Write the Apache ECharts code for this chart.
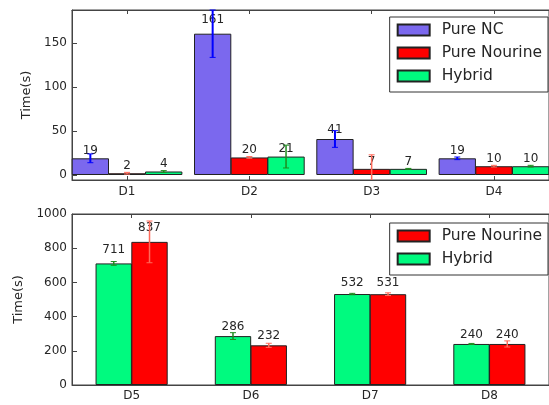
<!DOCTYPE html>
<html>
<head>
<meta charset="utf-8">
<script src="https://cdn.jsdelivr.net/npm/echarts@6.0.0/dist/echarts.min.js"></script>
<style>
html, body { margin: 0; padding: 0; background: #fff; }
#main { width: 549px; height: 405px; }
</style>
</head>
<body>
<div id="main"></div>
<script>
// top panel data
var topCats = ['D1', 'D2', 'D3', 'D4'];
var ncVals = [19, 161, 41, 19];
var ncErr = [5, 27, 9.5, 1.5];
var nourineTopVals = [2, 20, 7, 10];
var nourineTopErr = [1, 1, 16, 1];
var hybridTopVals = [4, 21, 7, 10];
var hybridTopErr = [1, 13, 0.5, 1];

// bottom panel data
var botCats = ['D5', 'D6', 'D7', 'D8'];
var hybridBotVals = [711, 286, 532, 240];
var hybridBotErr = [11, 20, 4, 3];
var nourineBotVals = [837, 232, 531, 240];
var nourineBotErr = [122, 12, 8, 18];

var txt = '#262626';
var spine = '#444';
var font = 'DejaVu Sans';

// layout
var plotW = 485;
var topMin = -0.45, topMax = 3.45;
var botMin = -0.5, botMax = 3.5;
var topYMin = -5.7, topYMax = 188;
var topBarW = 0.3 * plotW / (topMax - topMin);
var botBarW = 0.3 * plotW / (botMax - botMin);

function pts(vals, off) {
    return vals.map(function (v, i) { return [i + off, v]; });
}

function barSeries(name, xi, vals, off, color, w) {
    return {
        type: 'bar',
        name: name,
        xAxisIndex: xi,
        yAxisIndex: xi === 0 ? 0 : 1,
        data: pts(vals, off),
        barWidth: w,
        barGap: '-100%',
        itemStyle: { color: color, borderColor: '#222', borderWidth: 1 }
    };
}

//误差线 + 数值标签
function errSeries(xi, vals, errs, off, color, yMin, yMax, lw) {
    return {
        type: 'custom',
        xAxisIndex: xi,
        yAxisIndex: xi === 0 ? 0 : 1,
        z: 5,
        silent: true,
        data: vals.map(function (v, i) { return [i + off, v, errs[i]]; }),
        encode: { x: 0, y: 1 },
        renderItem: function (params, api) {
            var x = api.value(0), v = api.value(1), e = api.value(2);
            var lo = Math.max(v - e, yMin), hi = Math.min(v + e, yMax);
            var pLo = api.coord([x, lo]), pHi = api.coord([x, hi]);
            var pt = api.coord([x, v * 1.05]);
            var children = [{
                type: 'text',
                style: {
                    text: String(v), x: pt[0], y: pt[1] - 1,
                    align: 'center', verticalAlign: 'bottom',
                    textAlign: 'center', textVerticalAlign: 'bottom',
                    fill: txt, font: '12px "' + font + '"'
                }
            }, {
                type: 'line',
                shape: { x1: pLo[0], y1: pLo[1], x2: pHi[0], y2: pHi[1] },
                style: { stroke: color, lineWidth: lw }
            }];
            if (v - e >= yMin) {
                children.push({ type: 'line', shape: { x1: pLo[0] - 3, y1: pLo[1], x2: pLo[0] + 3, y2: pLo[1] }, style: { stroke: color, lineWidth: 1 } });
            }
            if (v + e <= yMax) {
                children.push({ type: 'line', shape: { x1: pHi[0] - 3, y1: pHi[1], x2: pHi[0] + 3, y2: pHi[1] }, style: { stroke: color, lineWidth: 1 } });
            }
            return { type: 'group', children: children };
        }
    };
}

function xAx(gi, min, max, cats, pos, showLabel, margin) {
    return {
        gridIndex: gi,
        type: 'value',
        position: pos,
        min: min,
        max: max,
        axisLine: { show: true, onZero: false, lineStyle: { color: spine, width: 1 } },
        axisTick: { show: true, inside: true, length: 4, customValues: [0, 1, 2, 3], lineStyle: { color: spine } },
        axisLabel: {
            show: showLabel,
            customValues: [0, 1, 2, 3],
            formatter: function (v) { return cats[Math.round(v)]; },
            margin: margin,
            fontSize: 12,
            color: txt
        },
        splitLine: { show: false }
    };
}

function legendOpt(top, names) {
    return {
        orient: 'vertical',
        right: 1,
        top: top,
        data: names,
        icon: 'rect',
        itemWidth: 32,
        itemHeight: 11,
        itemGap: 7,
        padding: [5, 6, 8, 7],
        borderColor: '#333',
        borderWidth: 1,
        borderRadius: 0,
        backgroundColor: '#fff',
        selectedMode: false,
        textStyle: { fontSize: 15.5, lineHeight: 15, color: txt, padding: [0, 0, 0, 7] }
    };
}

var chart = echarts.init(document.getElementById('main'));
var option = {
    animation: false,
    textStyle: { fontFamily: font },
    color: ['#7b68ee', '#ff0000', '#00fa7f'],
    grid: [
        { left: 72, right: -8, top: 10, height: 170, show: true, borderColor: spine, borderWidth: 1, backgroundColor: 'transparent' },
        { left: 72, right: -8, top: 214, height: 171, show: true, borderColor: spine, borderWidth: 1, backgroundColor: 'transparent' }
    ],
    legend: [
        legendOpt(17, ['Pure NC', 'Pure Nourine', 'Hybrid']),
        legendOpt(223, ['Pure Nourine', 'Hybrid'])
    ],
    xAxis: [
        xAx(0, topMin, topMax, topCats, 'bottom', true, 6),
        xAx(0, topMin, topMax, topCats, 'top', false, 6),
        xAx(1, botMin, botMax, botCats, 'bottom', true, 5),
        xAx(1, botMin, botMax, botCats, 'top', false, 5)
    ],
    yAxis: [
        {
            gridIndex: 0, type: 'value', min: topYMin, max: topYMax, splitNumber: 4,
            name: 'Time(s)', nameLocation: 'middle', nameGap: 37,
            nameTextStyle: { fontSize: 13, color: txt },
            axisLine: { show: true, onZero: false, lineStyle: { color: spine } },
            axisTick: { show: true, inside: true, length: 5, lineStyle: { color: spine } },
            axisLabel: { showMinLabel: false, showMaxLabel: false, fontSize: 12, color: txt, margin: 5 },
            splitLine: { show: false }
        },
        {
            gridIndex: 1, type: 'value', min: 0, max: 1000, interval: 200,
            name: 'Time(s)', nameLocation: 'middle', nameGap: 42,
            nameTextStyle: { fontSize: 13, color: txt },
            axisLine: { show: true, onZero: false, lineStyle: { color: spine } },
            axisTick: { show: true, inside: true, length: 5, lineStyle: { color: spine } },
            axisLabel: { fontSize: 12, color: txt, margin: 5, formatter: function (v) { return String(v); } },
            splitLine: { show: false }
        }
    ],
    series: [
        barSeries('Pure NC', 0, ncVals, -0.3, '#7b68ee', topBarW),
        barSeries('Pure Nourine', 0, nourineTopVals, 0, '#ff0000', topBarW),
        barSeries('Hybrid', 0, hybridTopVals, 0.3, '#00fa7f', topBarW),
        errSeries(0, ncVals, ncErr, -0.3, '#0000ff', topYMin, topYMax, 2),
        errSeries(0, nourineTopVals, nourineTopErr, 0, '#ff6a5a', topYMin, topYMax, 1.5),
        errSeries(0, hybridTopVals, hybridTopErr, 0.3, '#1e8c1e', topYMin, topYMax, 1.5),
        barSeries('Hybrid', 2, hybridBotVals, -0.15, '#00fa7f', botBarW),
        barSeries('Pure Nourine', 2, nourineBotVals, 0.15, '#ff0000', botBarW),
        errSeries(2, hybridBotVals, hybridBotErr, -0.15, '#1e8c1e', 0, 1000, 1.5),
        errSeries(2, nourineBotVals, nourineBotErr, 0.15, '#ff6a5a', 0, 1000, 1.5)
    ]
};
chart.setOption(option);
window.addEventListener('resize', function () {
    chart.resize();
});
</script>
</body>
</html>
